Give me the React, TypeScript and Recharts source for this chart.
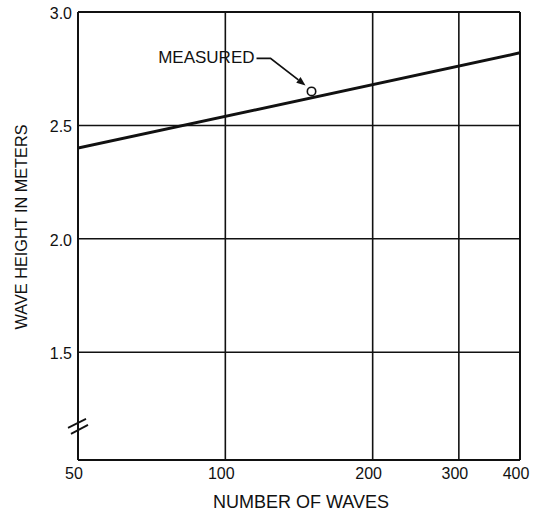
import React from 'react';
import { ComposedChart, Line, XAxis, YAxis, ReferenceLine, ReferenceDot } from 'recharts';

const waveCounts = [50, 400];
const waveHeights = [2.4, 2.82];
const measuredWaves = [150];
const measuredHeights = [2.65];
const xTicks = [50, 100, 200, 300, 400];
const yTicks = [1.5, 2.0, 2.5, 3.0];
const xGrid = [100, 200, 300];
const yGrid = [1.5, 2.0, 2.5];
const breakAt = 1.18;
const measuredLabel = 'MEASURED';
const xTitle = 'NUMBER OF WAVES';
const yTitle = 'WAVE HEIGHT IN METERS';

const lineData = waveCounts.map((n, i) => ({ n, h: waveHeights[i] }));

const FONT = '"Liberation Sans", Arial, Helvetica, sans-serif';
const INK = '#111';

const XTick = (props: any) => {
  const { x, y, payload } = props;
  return (
    <text x={x - 4} y={y + 19} textAnchor="middle" fontSize={16} fill={INK} fontFamily={FONT}>
      {payload.value}
    </text>
  );
};

const YTick = (props: any) => {
  const { x, y, payload } = props;
  return (
    <text x={x - 6} y={y + 7} textAnchor="end" fontSize={16} fill={INK} fontFamily={FONT}>
      {Number(payload.value).toFixed(1)}
    </text>
  );
};

const XTitle = (props: any) => {
  const vb = props.viewBox;
  return (
    <text x={vb.x + vb.width / 2 + 2} y={508} textAnchor="middle" fontSize={18} fill={INK} fontFamily={FONT}>
      {xTitle}
    </text>
  );
};

const YTitle = (props: any) => {
  const vb = props.viewBox;
  const cx = 21;
  const cy = vb.y + vb.height / 2 - 9;
  return (
    <text
      x={cx}
      y={cy}
      transform={`rotate(-90, ${cx}, ${cy})`}
      textAnchor="middle"
      dominantBaseline="central"
      fontSize={16.3}
      fill={INK}
      fontFamily={FONT}
    >
      {yTitle}
    </text>
  );
};

const MeasuredShape = (props: any) => {
  const { cx, cy } = props;
  const tx = cx - 57;
  const ty = cy - 34;
  const hx = cx - 6;
  const hy = cy - 6;
  const sx = cx - 41;
  const sy = cy - 33;
  const ang = Math.atan2(hy - sy, hx - sx);
  const L = 9;
  const W = 3.5;
  const bx = hx - L * Math.cos(ang);
  const by = hy - L * Math.sin(ang);
  const px = -Math.sin(ang) * W;
  const py = Math.cos(ang) * W;
  return (
    <g>
      <text x={tx} y={ty + 6} textAnchor="end" fontSize={17} fill={INK} fontFamily={FONT}>
        {measuredLabel}
      </text>
      <path d={`M ${tx + 2} ${sy} L ${sx} ${sy} L ${bx} ${by}`} stroke={INK} strokeWidth={1.8} fill="none" />
      <polygon points={`${hx},${hy} ${bx + px},${by + py} ${bx - px},${by - py}`} fill={INK} />
      <circle cx={cx} cy={cy} r={4.2} fill="#fff" stroke={INK} strokeWidth={1.6} />
    </g>
  );
};

const BreakShape = (props: any) => {
  const { cx, cy } = props;
  return (
    <g stroke={INK} strokeWidth={1.8}>
      <line x1={cx - 10} y1={cy + 3} x2={cx + 8} y2={cy - 6} />
      <line x1={cx - 7} y1={cy + 9} x2={cx + 10} y2={cy} />
    </g>
  );
};

export default function App() {
  return (
    <div style={{ position: 'absolute', left: 0, top: 0, background: '#fff' }}>
      <ComposedChart
        width={534}
        height={515}
        data={lineData}
        margin={{ top: 12, right: 14, left: 0, bottom: 0 }}
      >
        <XAxis
          dataKey="n"
          type="number"
          scale="log"
          domain={[50, 400]}
          ticks={xTicks}
          allowDataOverflow
          height={55}
          tickSize={0}
          tickMargin={0}
          tickLine={false}
          tick={<XTick />}
          axisLine={{ stroke: INK, strokeWidth: 2 }}
          label={<XTitle />}
          interval={0}
        />
        <YAxis
          type="number"
          domain={[1.025, 3.0]}
          ticks={yTicks}
          allowDataOverflow
          width={78}
          tickSize={0}
          tickMargin={0}
          tickLine={false}
          tick={<YTick />}
          axisLine={{ stroke: INK, strokeWidth: 2 }}
          label={<YTitle />}
          interval={0}
        />
        {yGrid.map((v) => (
          <ReferenceLine key={`y${v}`} y={v} stroke={INK} strokeWidth={1.5} />
        ))}
        {xGrid.map((v) => (
          <ReferenceLine key={`x${v}`} x={v} stroke={INK} strokeWidth={1.6} />
        ))}
        <ReferenceLine y={3.0} stroke={INK} strokeWidth={2} />
        <ReferenceLine x={400} stroke={INK} strokeWidth={2} />
        <Line
          dataKey="h"
          type="linear"
          stroke={INK}
          strokeWidth={3}
          dot={false}
          activeDot={false}
          isAnimationActive={false}
        />
        {measuredWaves.map((w, i) => (
          <ReferenceDot key={`m${i}`} x={w} y={measuredHeights[i]} r={4} shape={<MeasuredShape />} />
        ))}
        <ReferenceDot x={waveCounts[0]} y={breakAt} r={4} shape={<BreakShape />} />
      </ComposedChart>
    </div>
  );
}
